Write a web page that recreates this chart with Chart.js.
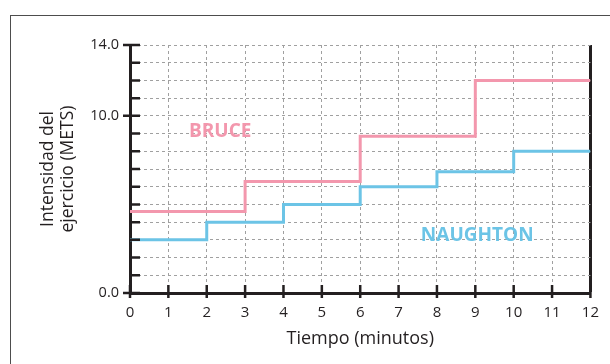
<!DOCTYPE html>
<html lang="es">
<head>
<meta charset="utf-8">
<script src="https://cdn.jsdelivr.net/npm/chart.js@4.4.1/dist/chart.umd.min.js"></script>
<style>
    html, body { margin: 0; padding: 0; background: #fff; }
    #contenedor { position: relative; width: 610px; height: 364px; }
    #marco {
        position: absolute; left: 10px; top: 15px; right: 0; bottom: 0;
        border-left: 1.5px solid #4d4d4d; border-top: 1.5px solid #4d4d4d;
    }
    #chartProtocolos { position: absolute; left: 0; top: 0; }
</style>
</head>
<body>
<div id="contenedor">
    <div id="marco"></div>
    <canvas id="chartProtocolos" width="610" height="364"></canvas>
</div>
<script>
// Protocolos de esfuerzo: Bruce vs Naughton (METS por minuto)
const minutosBruce = [0, 3, 6, 9, 12];
const metsBruce = [4.6, 6.3, 8.85, 12, 12];

const minutosNaughton = [0, 2, 4, 6, 8, 10, 12];
const metsNaughton = [3, 4, 5, 6, 6.85, 8, 8];

const etiquetasY = [0, 10, 14];
const nombresSeries = ["BRUCE", "NAUGHTON"];
const coloresSeries = ["#f397ad", "#6cc4e6"];
// donde va el nombre de cada serie, en minutos / METS
const posNombres = [{ x: 2.35, y: 9.1 }, { x: 9.05, y: 3.25 }];

const fuente = '"Open Sans", "DejaVu Sans", sans-serif';
const tinta = "#231f20";

function puntos(minutos, mets) {
    return minutos.map((m, i) => ({ x: m, y: mets[i] }));
}

const marcasEjes = {
    id: "marcasEjes",
    afterDraw(chart) {
        const { ctx, chartArea, scales: { x, y } } = chart;
        ctx.save();
        ctx.strokeStyle = tinta;
        ctx.lineWidth = 2.5;
        ctx.beginPath();
        y.ticks.forEach(t => {
            const py = y.getPixelForValue(t.value);
            const fuera = etiquetasY.includes(t.value) ? 7 : 0;
            ctx.moveTo(chartArea.left - fuera, py);
            ctx.lineTo(chartArea.left + 10, py);
        });
        x.ticks.forEach(t => {
            const px = x.getPixelForValue(t.value);
            ctx.moveTo(px, chartArea.bottom - 8);
            ctx.lineTo(px, chartArea.bottom + 5);
        });
        ctx.stroke();

        ctx.font = "bold 19px " + fuente;
        ctx.textAlign = "center";
        ctx.textBaseline = "middle";
        nombresSeries.forEach((nombre, i) => {
            ctx.fillStyle = coloresSeries[i];
            ctx.fillText(nombre, x.getPixelForValue(posNombres[i].x), y.getPixelForValue(posNombres[i].y));
        });
        ctx.restore();
    }
};

const esBordeDerecho = c => c.tick && c.tick.value === 12;

new Chart(document.getElementById("chartProtocolos"), {
    type: "line",
    data: {
        datasets: [
            {
                label: nombresSeries[0],
                data: puntos(minutosBruce, metsBruce),
                borderColor: coloresSeries[0],
                borderWidth: 3,
                stepped: true,
                pointRadius: 0
            },
            {
                label: nombresSeries[1],
                data: puntos(minutosNaughton, metsNaughton),
                borderColor: coloresSeries[1],
                borderWidth: 3,
                stepped: true,
                pointRadius: 0
            }
        ]
    },
    options: {
        responsive: false,
        animation: false,
        devicePixelRatio: 1,
        layout: { padding: { top: 45, right: 19, bottom: 0, left: 0 } },
        plugins: { legend: { display: false }, tooltip: { enabled: false } },
        scales: {
            x: {
                type: "linear",
                min: 0,
                max: 12,
                afterFit: s => { s.height = 71; },
                ticks: {
                    stepSize: 1,
                    maxTicksLimit: 20,
                    autoSkip: false,
                    padding: 11,
                    color: tinta,
                    font: { family: fuente, size: 15 }
                },
                grid: {
                    drawTicks: false,
                    color: c => esBordeDerecho(c) ? tinta : "#a0a0a0",
                    lineWidth: c => esBordeDerecho(c) ? 3 : 1
                },
                border: {
                    color: tinta,
                    width: 3,
                    dash: c => esBordeDerecho(c) ? [] : [3, 3]
                },
                title: {
                    display: true,
                    text: "Tiempo (minutos)",
                    color: tinta,
                    font: { family: fuente, size: 18 },
                    padding: { top: 0, bottom: 14 }
                }
            },
            y: {
                min: 0,
                max: 14,
                afterFit: s => { s.width = 130; },
                ticks: {
                    stepSize: 1,
                    maxTicksLimit: 20,
                    autoSkip: false,
                    padding: 11,
                    color: tinta,
                    font: { family: fuente, size: 14.5 },
                    callback: v => etiquetasY.includes(v) ? v.toFixed(1) : ""
                },
                grid: { drawTicks: false, color: "#a0a0a0", lineWidth: 1 },
                border: { color: tinta, width: 3, dash: [3, 3] },
                title: {
                    display: true,
                    text: ["Intensidad del", "ejercicio (METS)"],
                    color: tinta,
                    font: { family: fuente, size: 17.5, lineHeight: 1.15 },
                    padding: { top: 38, bottom: 0 }
                }
            }
        }
    },
    plugins: [marcasEjes]
});
</script>
</body>
</html>
